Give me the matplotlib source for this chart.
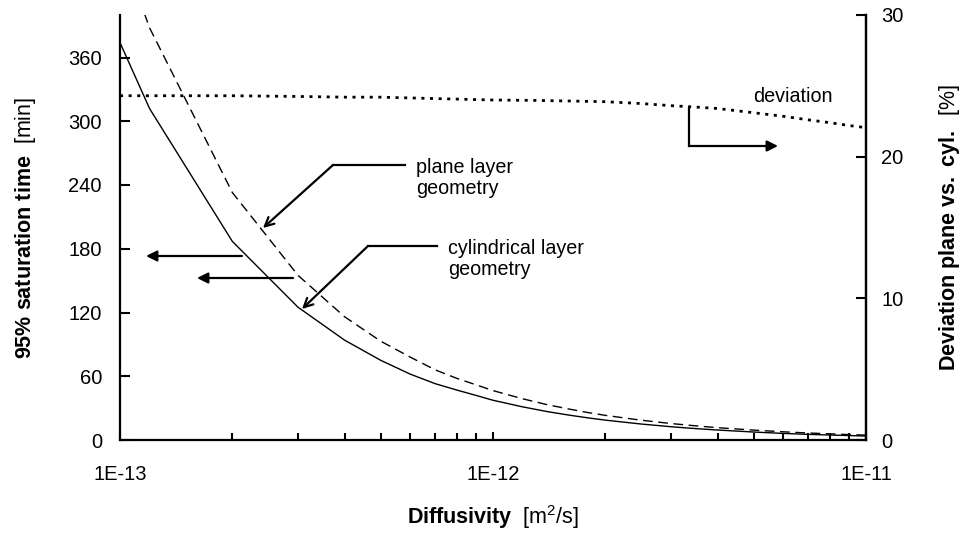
import matplotlib
matplotlib.use("Agg")
import matplotlib.pyplot as plt
from matplotlib.ticker import FixedLocator, FuncFormatter, LogLocator, NullFormatter
import numpy as np

plt.rcParams["font.family"] = "Liberation Sans"
plt.rcParams["mathtext.fontset"] = "custom"
plt.rcParams["mathtext.rm"] = "Liberation Sans"
plt.rcParams["mathtext.bf"] = "Liberation Sans:bold"
plt.rcParams["mathtext.it"] = "Liberation Sans:italic"

# diffusivity [m2/s]
diffusivity = np.array([1, 1.2, 2, 3, 4, 5, 6, 7, 8, 9, 10, 12, 14, 16, 18,
                        20, 25, 30, 35, 40, 50, 60, 70, 80, 90, 100]) * 1e-13
# 95% saturation time [min]
t_cylindrical = [374, 312, 187, 125, 94, 75, 62, 53, 47, 42, 37.4, 31.2, 26.7, 23.4, 20.8,
                 18.7, 15.0, 12.5, 10.7, 9.4, 7.5, 6.2, 5.3, 4.7, 4.2, 3.7]
t_plane = [465, 388, 233, 155, 116, 93, 78, 66, 58, 52, 46.5, 38.8, 33.2, 29.1, 25.8,
           23.2, 18.6, 15.5, 13.3, 11.6, 9.3, 7.7, 6.6, 5.8, 5.1, 4.6]

# deviation plane vs. cylindrical [%]
dev_diffusivity = np.array([1, 2, 3, 4, 5, 7, 10, 13, 16, 20, 25, 30, 35, 40, 50,
                            60, 70, 80, 90, 100]) * 1e-13
deviation = [24.3, 24.3, 24.25, 24.2, 24.2, 24.1, 24.0, 23.97, 23.93, 23.88, 23.75,
             23.6, 23.5, 23.4, 23.1, 22.85, 22.6, 22.4, 22.2, 22.05]

left_ticks = [0, 60, 120, 180, 240, 300, 360]
right_ticks = [0, 10, 20, 30]

fig = plt.figure(figsize=(9.62, 5.36), dpi=100)
ax = fig.add_axes([120/962, 1-440/536, 746/962, 425/536])
ax2 = ax.twinx()

ax.plot(diffusivity, t_cylindrical, color='k', lw=1.0)
ax.plot(diffusivity, t_plane, color='k', lw=1.0, dashes=(7, 4))
ax2.plot(dev_diffusivity, deviation, color='k', lw=2.0, dashes=(1.1, 2.0))

ax.set_xscale('log')
ax.set_xlim(1e-13, 1e-11)
ax.set_ylim(0, 400)
ax2.set_ylim(0, 30)

ax.xaxis.set_major_locator(FixedLocator([1e-13, 1e-12, 1e-11]))
ax.xaxis.set_major_formatter(FuncFormatter(lambda v, p: '1E%d' % round(np.log10(v))))
ax.xaxis.set_minor_locator(LogLocator(base=10, subs=np.arange(2, 10)))
ax.xaxis.set_minor_formatter(NullFormatter())
ax.set_yticks(left_ticks)
ax2.set_yticks(right_ticks)

for a in (ax, ax2):
    a.spines['top'].set_visible(False)
    for s in a.spines.values():
        s.set_linewidth(1.6)
ax2.spines['left'].set_visible(False)
ax2.spines['bottom'].set_visible(False)

ax.tick_params(axis='x', which='major', direction='in', length=6, width=1.5, pad=18, labelsize=14.5)
ax.tick_params(axis='x', which='minor', direction='in', length=5, width=1.5)
ax.tick_params(axis='y', direction='in', length=7, width=1.5, pad=13, labelsize=14.5)
ax2.tick_params(axis='y', direction='in', length=7, width=1.5, pad=11, labelsize=14.5)

ax.set_xlabel(r'$\bf{Diffusivity}$  [m$^{2}$/s]', fontsize=15.5, labelpad=14)
ax.set_ylabel(r'$\bf{95\%\ saturation\ time}$  [min]', fontsize=15.5, labelpad=22)
ax2.set_ylabel(r'$\bf{Deviation\ plane\ vs.\ cyl.}$  [%]', fontsize=15.5, labelpad=24)


def px(x, y):
    # pixel position -> axes fraction
    return ((x - 120) / 746, (440 - y) / 425)


def bent_arrow(points, style):
    xs, ys = zip(*[px(*p) for p in points[:-1]])
    ax.plot(xs, ys, color='k', lw=1.6, transform=ax.transAxes, clip_on=False)
    ax.annotate('', xy=px(*points[-1]), xytext=px(*points[-2]),
                xycoords='axes fraction', textcoords='axes fraction',
                arrowprops=dict(arrowstyle=style, lw=1.6, color='k',
                                mutation_scale=16, shrinkA=0, shrinkB=0))


# labels for the two curves
bent_arrow([(405, 165), (333, 165), (263, 228)], '->')
bent_arrow([(437, 246), (368, 246), (302, 309)], '->')
ax.text(*px(416, 158), 'plane layer\ngeometry', transform=ax.transAxes,
        fontsize=14.2, va='top', ha='left', linespacing=1.15)
ax.text(*px(448, 239), 'cylindrical layer\ngeometry', transform=ax.transAxes,
        fontsize=14.2, va='top', ha='left', linespacing=1.15)

# which axis each curve belongs to
bent_arrow([(242, 256), (146, 256)], '-|>')
bent_arrow([(293, 278), (197, 278)], '-|>')
bent_arrow([(689, 108), (689, 146), (778, 146)], '-|>')
ax.text(*px(753, 87), 'deviation', transform=ax.transAxes,
        fontsize=14.2, va='top', ha='left')

fig.savefig('out.png', dpi=100)
